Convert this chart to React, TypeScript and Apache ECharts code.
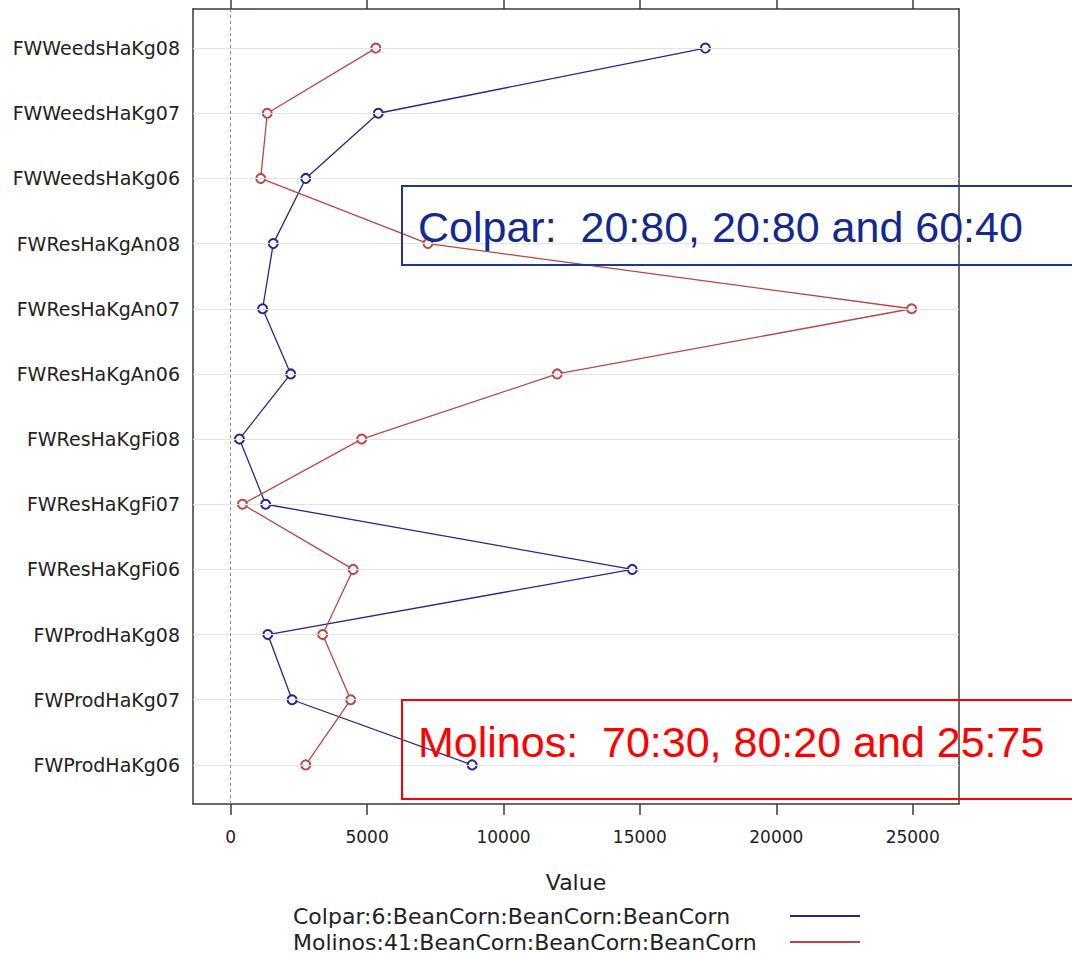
import React, { useEffect, useRef } from "react";
import * as echarts from "echarts";

const categories = [
  "FWProdHaKg06",
  "FWProdHaKg07",
  "FWProdHaKg08",
  "FWResHaKgFi06",
  "FWResHaKgFi07",
  "FWResHaKgFi08",
  "FWResHaKgAn06",
  "FWResHaKgAn07",
  "FWResHaKgAn08",
  "FWWeedsHaKg06",
  "FWWeedsHaKg07",
  "FWWeedsHaKg08",
];
const colparValues = [8850, 2250, 1360, 14720, 1280, 320, 2200, 1170, 1560, 2750, 5410, 17400];
const molinosValues = [2750, 4400, 3370, 4490, 430, 4800, 11970, 24960, 7230, 1100, 1340, 5320];
const xTicks = [0, 5000, 10000, 15000, 20000, 25000];
const seriesNames = [
  "Colpar:6:BeanCorn:BeanCorn:BeanCorn",
  "Molinos:41:BeanCorn:BeanCorn:BeanCorn",
];
const annotations = ["Colpar:  20:80, 20:80 and 60:40", "Molinos:  70:30, 80:20 and 25:75"];
const axisTitle = "Value";

const BLUE = "#262690";
const RED = "#bd4644";
const AXIS = "#3a3a3a";
const TEXT = "#222222";
const FONT = "DejaVu Sans";

export default function App() {
  const ref = useRef<HTMLDivElement>(null);
  useEffect(() => {
    if (!ref.current) return;
    const chart = echarts.init(ref.current, undefined, { renderer: "svg" });
    const xMin = -1382;
    const xMax = 26697;
    const yMin = -0.6;
    const yMax = 11.6;
    const catIdx = categories.map((_, i) => i);
    const option: any = {
      animation: false,
      backgroundColor: "#ffffff",
      grid: { left: 193, top: 9, width: 766, height: 795, containLabel: false },
      xAxis: [
        {
          type: "value",
          position: "bottom",
          min: xMin,
          max: xMax,
          axisLine: { show: true, onZero: false, lineStyle: { color: AXIS, width: 1.5 } },
          axisTick: { show: true, customValues: xTicks, length: 11, lineStyle: { color: AXIS, width: 1.5 } },
          axisLabel: {
            customValues: xTicks,
            formatter: (v: number) => String(v),
            margin: 24,
            fontFamily: FONT,
            fontSize: 17,
            color: TEXT,
          },
          splitLine: { show: false },
          name: axisTitle,
          nameLocation: "middle",
          nameGap: 67,
          nameTextStyle: { fontFamily: FONT, fontSize: 22, color: TEXT },
        },
        {
          type: "value",
          position: "top",
          min: xMin,
          max: xMax,
          axisLine: { show: true, onZero: false, lineStyle: { color: AXIS, width: 1.5 } },
          axisTick: { show: true, customValues: xTicks, length: 11, lineStyle: { color: AXIS, width: 1.5 } },
          axisLabel: { show: false },
          splitLine: { show: false },
        },
      ],
      yAxis: [
        {
          type: "value",
          position: "left",
          min: yMin,
          max: yMax,
          axisLine: { show: true, onZero: false, lineStyle: { color: AXIS, width: 1.5 } },
          axisTick: { show: false },
          axisLabel: {
            customValues: catIdx,
            formatter: (v: number) => categories[Math.round(v)] ?? "",
            margin: 13,
            fontFamily: FONT,
            fontSize: 19,
            color: TEXT,
          },
          splitLine: { show: false },
        },
        {
          type: "value",
          position: "right",
          min: yMin,
          max: yMax,
          axisLine: { show: true, onZero: false, lineStyle: { color: AXIS, width: 1.5 } },
          axisTick: { show: false },
          axisLabel: { show: false },
          splitLine: { show: false },
        },
      ],
      legend: {
        data: seriesNames,
        orient: "vertical",
        left: 293,
        top: 905,
        align: "right",
        padding: 0,
        itemGap: 4,
        itemWidth: 70,
        itemHeight: 2,
        icon: "rect",
        formatter: "{a|{name}}",
        textStyle: {
          width: 492,
          rich: {
            a: { align: "left", fontFamily: FONT, fontSize: 22, lineHeight: 26, color: TEXT },
          },
        },
      },
      series: [
        {
          type: "line",
          name: "grid",
          data: [],
          z: 1,
          silent: true,
          markLine: {
            silent: true,
            symbol: ["none", "none"],
            label: { show: false },
            lineStyle: { color: "#e4e4e4", type: "solid", width: 1.2 },
            data: [
              ...catIdx.map((i) => ({ yAxis: i })),
              { xAxis: 0, lineStyle: { color: "#8a8a8a", type: [3, 3], width: 1 } },
            ],
          },
        },
        {
          type: "line",
          name: seriesNames[0],
          data: colparValues.map((v, i) => [v, i]),
          symbol: "emptyCircle",
          symbolSize: 9,
          z: 3,
          lineStyle: { color: BLUE, width: 1.3 },
          itemStyle: { color: BLUE, borderWidth: 1.3 },
        },
        {
          type: "line",
          name: seriesNames[1],
          data: molinosValues.map((v, i) => [v, i]),
          symbol: "emptyCircle",
          symbolSize: 9,
          z: 3,
          lineStyle: { color: RED, width: 1.3 },
          itemStyle: { color: RED, borderWidth: 1.3 },
        },
      ],
      graphic: [
        {
          type: "rect",
          z: 100,
          shape: { x: 402, y: 186, width: 720, height: 79 },
          style: { fill: "none", stroke: "#1f3399", lineWidth: 2 },
        },
        {
          type: "text",
          z: 101,
          x: 418,
          y: 227,
          style: {
            text: annotations[0],
            font: '43px "Liberation Sans", Arial, sans-serif',
            fill: "#12298f",
            verticalAlign: "middle",
          },
        },
        {
          type: "rect",
          z: 100,
          shape: { x: 402, y: 700, width: 720, height: 99 },
          style: { fill: "none", stroke: "#ff0000", lineWidth: 2 },
        },
        {
          type: "text",
          z: 101,
          x: 418,
          y: 742,
          style: {
            text: annotations[1],
            font: '43px "Liberation Sans", Arial, sans-serif',
            fill: "#ff0000",
            verticalAlign: "middle",
          },
        },
      ],
    };
    chart.setOption(option);
    return () => chart.dispose();
  }, []);
  return (
    <div
      ref={ref}
      style={{ position: "absolute", left: 0, top: 0, width: 1072, height: 955 }}
    />
  );
}
